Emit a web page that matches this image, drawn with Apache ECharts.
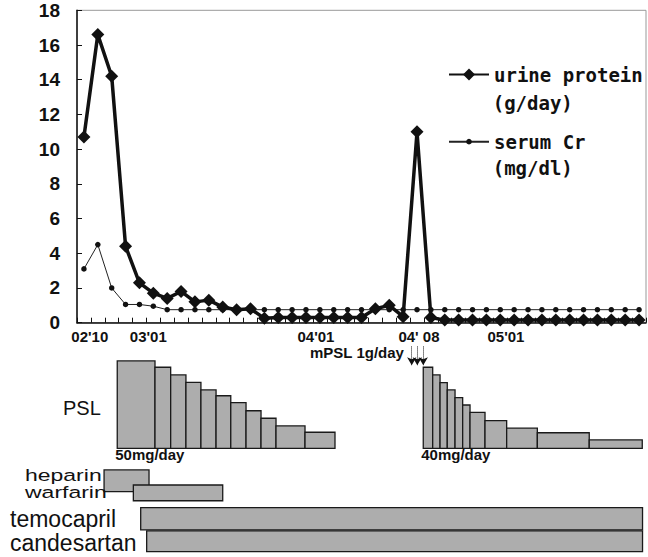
<!DOCTYPE html>
<html>
<head>
<meta charset="utf-8">
<title>urine protein / serum Cr / PSL</title>
<script src="https://cdn.jsdelivr.net/npm/echarts@6/dist/echarts.min.js"></script>
<style>
  html, body { margin: 0; padding: 0; background: #fff; }
  #chart { width: 648px; height: 557px; }
</style>
</head>
<body>
<div id="chart"></div>
<script>
// measurements, one per visit (x = visit slot, slot k is centred on k + 0.5)
const urineProtein = [10.7, 16.6, 14.2, 4.4, 2.3, 1.7, 1.4, 1.8, 1.2, 1.3,
  0.9, 0.75, 0.8, 0.25, 0.3, 0.3, 0.3, 0.3, 0.3, 0.3,
  0.3, 0.8, 1.0, 0.35, 11.0, 0.3, 0.15, 0.15, 0.15, 0.15,
  0.15, 0.15, 0.15, 0.15, 0.15, 0.15, 0.15, 0.15, 0.15, 0.15,
  0.15];
const serumCr = [3.1, 4.5, 2.0, 1.05, 1.05, 0.95, 0.75, 0.75, 0.75, 0.75,
  0.75, 0.75, 0.75, 0.75, 0.75, 0.75, 0.75, 0.75, 0.75, 0.75,
  0.75, 0.75, 0.75, 0.75, 0.75, 0.75, 0.75, 0.75, 0.75, 0.75,
  0.75, 0.75, 0.75, 0.75, 0.75, 0.75, 0.75, 0.75, 0.75, 0.75,
  0.75];

// date labels under the x axis
const xLabelText = ["02'10", "03'01", "04'01", "04' 08", "05'01"];
const xLabelPos = [0.92, 5.14, 17.22, 24.64, 30.91];

// PSL tapering (step edges on the same time scale, dose per step)
const psl1Edges = [2.9, 5.62, 6.75, 7.85, 8.93, 10.02, 11.08, 12.18, 13.26, 14.34, 16.43, 18.59];
const psl1Dose = [50, 46.4, 42, 37.8, 33.4, 30.1, 26.1, 21.5, 17.2, 12.8, 9.2];
const psl2Edges = [24.95, 25.63, 26.16, 26.68, 27.24, 27.79, 28.32, 29.4, 30.96, 33.17, 36.91, 40.73];
const psl2Dose = [46.4, 42, 37.6, 33.4, 29, 24.8, 20.6, 15.8, 11.5, 8.9, 4.8];
const pslStartLabels = ['50mg/day', '40mg/day'];

// mPSL pulse days
const mpslDays = [24.12, 24.52, 24.95];

// other drugs
const drugNames = ['heparin', 'warfarin', 'temocapril', 'candesartan'];
const drugStart = [1.95, 4.06, 4.59, 5.02];
const drugEnd = [5.19, 10.5, 40.75, 40.75];

// ---- layout / styles ----
const BAR_FILL = '#adadad';
const BAR_STROKE = '#1a1a1a';
const INK = '#111';
// row centre, thickness (in rows), label x (px), label y shift (px), label squeeze
const drugRows = [
  { row: 0.81, h: 0.96, lx: 25, dy: -5.5, sy: 0.75 },
  { row: 1.35, h: 0.70, lx: 25, dy: -0.5, sy: 0.75 },
  { row: 2.50, h: 0.99, lx: 10, dy: 0, sy: 1 },
  { row: 3.50, h: 0.92, lx: 10, dy: 2, sy: 1 }
];

let pslData = [];
let pslNote = {};
[[psl1Edges, psl1Dose], [psl2Edges, psl2Dose]].forEach((g, gi) => {
  pslNote[pslData.length] = pslStartLabels[gi];
  g[1].forEach((d, i) => {
    pslData.push([g[0][i], g[0][i + 1], d]);
  });
});
let drugData = drugNames.map((n, i) => [drugStart[i], drugEnd[i], i]);

function pslItem(params, api) {
  const tl = api.coord([api.value(0), api.value(2)]);
  const br = api.coord([api.value(1), 0]);
  const kids = [{
    type: 'rect',
    shape: { x: tl[0], y: tl[1], width: br[0] - tl[0], height: br[1] - tl[1] },
    style: { fill: BAR_FILL, stroke: BAR_STROKE, lineWidth: 1.3 }
  }];
  const note = pslNote[params.dataIndex];
  if (note) {
    kids.push({
      type: 'text', x: tl[0] - 2, y: br[1] - 1,
      style: { text: note, font: 'bold 15px "Liberation Sans"', fill: INK, align: 'left', verticalAlign: 'top' }
    });
  }
  return { type: 'group', children: kids };
}

function drugItem(params, api) {
  const lay = drugRows[api.value(2)];
  const a = api.coord([api.value(0), lay.row - lay.h / 2]);
  const b = api.coord([api.value(1), lay.row + lay.h / 2]);
  const mid = api.coord([0, lay.row])[1];
  return {
    type: 'group',
    children: [{
      type: 'rect',
      shape: { x: a[0], y: a[1], width: b[0] - a[0], height: b[1] - a[1] },
      style: { fill: BAR_FILL, stroke: BAR_STROKE, lineWidth: 1.3 }
    }, {
      type: 'text', x: lay.lx, y: mid + lay.dy, scaleY: lay.sy,
      style: { text: drugNames[params.dataIndex], font: '23px "Liberation Sans"', fill: INK, align: 'left', verticalAlign: 'middle' }
    }]
  };
}

const chart = echarts.init(document.getElementById('chart'), null, { renderer: 'svg' });
const hiddenX = { type: 'value', min: 0, max: 41, show: false };
const legendText = { fontFamily: 'DejaVu Sans Mono', fontWeight: 'bold', fontSize: 19, color: INK, lineHeight: 22 };

chart.setOption({
  animation: false,
  backgroundColor: '#fff',
  grid: [
    { left: 77, right: 2, top: 10.3, bottom: 234.3, show: true, borderColor: '#999', borderWidth: 1, outerBoundsMode: 'none' },
    { left: 77, right: 2, top: 343.5, bottom: 108.7, outerBoundsMode: 'none' },
    { left: 77, right: 2, top: 462.5, bottom: 4.5, outerBoundsMode: 'none' }
  ],
  xAxis: [
    {
      type: 'value', gridIndex: 0, min: 0, max: 41, interval: 1,
      axisLine: { show: true, lineStyle: { color: INK, width: 1.5 } },
      axisTick: { show: true, inside: true, length: 5, lineStyle: { color: INK } },
      splitLine: { show: false },
      axisLabel: {
        customValues: xLabelPos,
        formatter: function (v) {
          let best = 0;
          xLabelPos.forEach((p, i) => { if (Math.abs(p - v) < Math.abs(xLabelPos[best] - v)) best = i; });
          return xLabelText[best];
        },
        fontFamily: 'Liberation Sans', fontWeight: 'bold', fontSize: 15, lineHeight: 14, color: INK, margin: 7
      }
    },
    Object.assign({ gridIndex: 1 }, hiddenX),
    Object.assign({ gridIndex: 2 }, hiddenX)
  ],
  yAxis: [
    {
      type: 'value', gridIndex: 0, min: 0, max: 18, interval: 2,
      axisLine: { show: true, lineStyle: { color: INK, width: 1.5 } },
      axisTick: { show: true, inside: true, length: 5, lineStyle: { color: INK } },
      splitLine: { show: false },
      axisLabel: { fontFamily: 'Liberation Sans', fontWeight: 'bold', fontSize: 19, color: INK, margin: 17, padding: [6, 0, 0, 0] }
    },
    { type: 'value', gridIndex: 1, min: 0, max: 60, show: false },
    { type: 'value', gridIndex: 2, min: 0, max: 4, inverse: true, show: false }
  ],
  legend: [
    { data: ['urine protein'], left: 443, top: 58.5, itemWidth: 40, itemHeight: 15, selectedMode: false, textStyle: legendText },
    { data: ['serum Cr'], left: 443, top: 125.7, itemWidth: 40, itemHeight: 7, selectedMode: false, textStyle: legendText }
  ],
  graphic: [
    { type: 'text', left: 492.7, top: 92, style: { text: '(g/day)', font: 'bold 19px "DejaVu Sans Mono"', fill: INK, lineHeight: 22 } },
    { type: 'text', left: 492.7, top: 157, style: { text: '(mg/dl)', font: 'bold 19px "DejaVu Sans Mono"', fill: INK, lineHeight: 22 } },
    { type: 'text', left: 63, top: 398, style: { text: 'PSL', font: '20px "Liberation Sans"', fill: INK, lineHeight: 20 } },
    { type: 'text', left: 310, top: 344.5, style: { text: 'mPSL 1g/day', font: 'bold 15px "Liberation Sans"', fill: INK, lineHeight: 15 } }
  ],
  series: [
    {
      type: 'line', name: 'serum Cr', xAxisIndex: 0, yAxisIndex: 0,
      data: serumCr.map((v, i) => [i + 0.5, v]),
      symbol: 'circle', symbolSize: 5.5, showAllSymbol: true,
      lineStyle: { color: '#222', width: 1 }, itemStyle: { color: INK }, z: 2
    },
    {
      type: 'line', name: 'urine protein', xAxisIndex: 0, yAxisIndex: 0,
      data: urineProtein.map((v, i) => [i + 0.5, v]),
      symbol: 'diamond', symbolSize: 13, showAllSymbol: true,
      lineStyle: { color: INK, width: 3.5 }, itemStyle: { color: INK }, z: 3
    },
    {
      type: 'custom', name: 'PSL', xAxisIndex: 1, yAxisIndex: 1, clip: false,
      data: pslData, renderItem: pslItem, encode: { x: [0, 1], y: 2 },
      markLine: {
        silent: true, symbol: ['none', 'arrow'], symbolSize: [7, 8],
        lineStyle: { color: INK, type: 'dotted', width: 1 },
        label: { show: false },
        data: mpslDays.map(d => [{ coord: [d, 58.3] }, { coord: [d, 47.6] }])
      }
    },
    {
      type: 'custom', name: 'drugs', xAxisIndex: 2, yAxisIndex: 2, clip: false,
      data: drugData, renderItem: drugItem, encode: { x: [0, 1] }
    }
  ]
});
</script>
</body>
</html>
